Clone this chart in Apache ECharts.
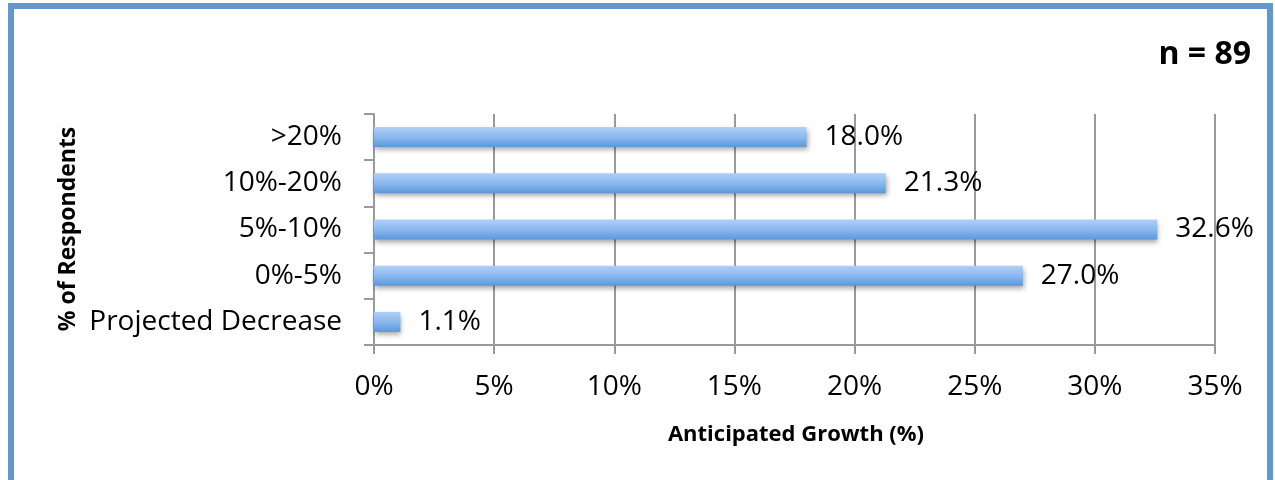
<!DOCTYPE html>
<html><head><meta charset="utf-8">
<script src="https://cdn.jsdelivr.net/npm/echarts@6/dist/echarts.min.js"></script>
<style>html,body{margin:0;padding:0;background:#fff}#c{width:1275px;height:480px}</style>
</head><body><div id="c"></div>
<script>
const categories = ['Projected Decrease', '0%-5%', '5%-10%', '10%-20%', '>20%'];
const values = [1.1, 27.0, 32.6, 21.3, 18.0];
const xTicks = [0, 5, 10, 15, 20, 25, 30, 35];
const chartNote = 'n = 89';
const xTitle = 'Anticipated Growth (%)';
const yTitle = '% of Respondents';

const font = '"Open Sans", "Noto Sans", sans-serif';
const chart = echarts.init(document.getElementById('c'));
chart.setOption({
  animation: false,
  backgroundColor: '#fff',
  grid: { left: 374, right: 60, top: 114, bottom: 135, containLabel: false },
  graphic: [
    { type: 'rect', shape: { x: 11, y: 6, width: 1259, height: 520 }, style: { fill: 'none', stroke: '#6497cb', lineWidth: 6 }, silent: true },
    { type: 'text', x: 1251, y: 55, style: { text: chartNote, font: 'bold 32px ' + font, fill: '#000', textAlign: 'right', textVerticalAlign: 'middle' } },
    { type: 'text', x: 796, y: 435, style: { text: xTitle, font: 'bold 22px ' + font, fill: '#000', textAlign: 'center', textVerticalAlign: 'middle' } },
    { type: 'text', x: 68, y: 229, rotation: Math.PI / 2, style: { text: yTitle, font: 'bold 23px ' + font, fill: '#000', textAlign: 'center', textVerticalAlign: 'middle' } }
  ],
  xAxis: {
    type: 'value', min: 0, max: 35, interval: 5,
    axisLine: { show: true, lineStyle: { color: '#9a9a9a', width: 2 } },
    axisTick: { show: true, length: 9, lineStyle: { color: '#9a9a9a', width: 2 } },
    splitLine: { show: true, lineStyle: { color: '#9a9a9a', width: 2 } },
    axisLabel: { margin: 28, fontSize: 28, color: '#000', fontFamily: font,
      formatter: v => xTicks.includes(v) ? v + '%' : '' }
  },
  yAxis: {
    type: 'category', data: categories,
    axisLine: { show: true, lineStyle: { color: '#9a9a9a', width: 2 } },
    axisTick: { show: true, length: 10, lineStyle: { color: '#9a9a9a', width: 2 } },
    axisLabel: { margin: 32, fontSize: 28, color: '#000', fontFamily: font }
  },
  series: [{
    type: 'bar', data: values, barWidth: 20,
    itemStyle: {
      color: new echarts.graphic.LinearGradient(0, 0, 0, 1, [
        { offset: 0, color: '#b0d0f7' },
        { offset: 0.5, color: '#8bb9ef' },
        { offset: 1, color: '#5b97da' }
      ]),
      shadowColor: 'rgba(0,0,0,0.35)', shadowBlur: 5, shadowOffsetY: 3, shadowOffsetX: 1
    },
    label: { show: true, position: 'right', distance: 18, fontSize: 28, color: '#000', fontFamily: font,
      formatter: p => p.value.toFixed(1) + '%' }
  }]
});
</script></body></html>
